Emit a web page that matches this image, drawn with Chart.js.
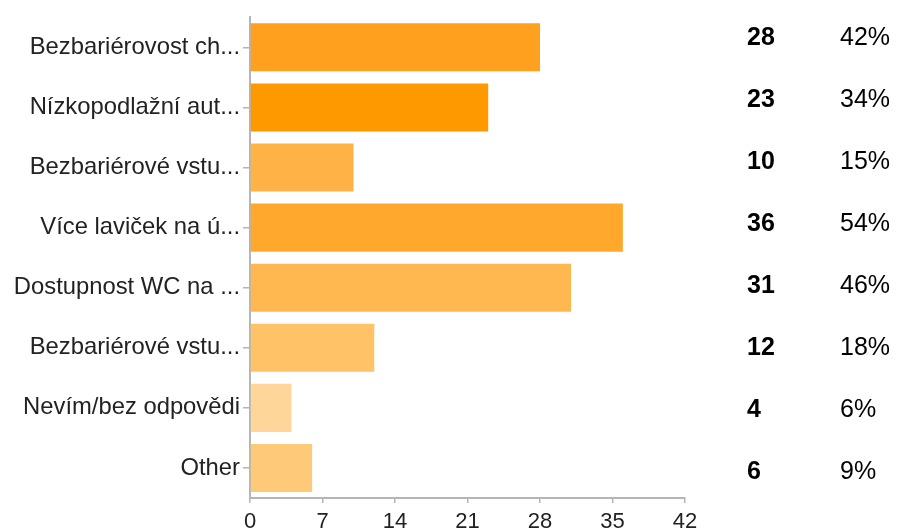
<!DOCTYPE html>
<html>
<head>
<meta charset="utf-8">
<script src="https://cdn.jsdelivr.net/npm/chart.js@4/dist/chart.umd.min.js"></script>
<style>
  html, body { margin: 0; padding: 0; background: #fff; }
  #wrap { width: 897px; height: 530px; }
</style>
</head>
<body>
<div id="wrap"><canvas id="c" width="897" height="530"></canvas></div>
<script>
// data
const categories = [
    'Bezbariérovost ch...',
    'Nízkopodlažní aut...',
    'Bezbariérové vstu...',
    'Více laviček na ú...',
    'Dostupnost WC na ...',
    'Bezbariérové vstu...',
    'Nevím/bez odpovědi',
    'Other'
];
const counts   = [28, 23, 10, 36, 31, 12, 4, 6];
const percents = [42, 34, 15, 54, 46, 18, 6, 9];
const barColors = ['#ffa11f', '#ff9900', '#ffb347', '#ffa82c', '#ffb74f', '#ffc266', '#ffd699', '#ffc97a'];
const xTicks = [0, 7, 14, 21, 28, 35, 42];

const FONT = "'Liberation Sans', Arial, sans-serif";

// count + percent columns on the right (own row pitch, a bit taller than the bars)
const sideColumns = {
    id: 'sideColumns',
    afterDraw(chart) {
        const ctx = chart.ctx;
        ctx.save();
        ctx.textBaseline = 'middle';
        ctx.textAlign = 'left';
        ctx.fillStyle = '#000';
        counts.forEach((v, i) => {
            const py = 38 + i * 62;
            ctx.font = 'bold 25px ' + FONT;
            ctx.fillText(String(v), 747, py);
            ctx.font = '25px ' + FONT;
            ctx.fillText(percents[i] + '%', 840, py);
        });
        ctx.restore();
    }
};

new Chart(document.getElementById('c'), {
    type: 'bar',
    data: {
        labels: categories,
        datasets: [{
            data: counts,
            backgroundColor: barColors,
            borderWidth: 0,
            categoryPercentage: 0.8,
            barPercentage: 1.0
        }]
    },
    options: {
        indexAxis: 'y',
        responsive: false,
        animation: false,
        layout: { padding: { top: 16, right: 212, bottom: 0, left: 0 } },
        plugins: { legend: { display: false }, tooltip: { enabled: false } },
        scales: {
            x: {
                min: 0,
                max: 42,
                afterBuildTicks: s => { s.ticks = xTicks.map(v => ({ value: v })); },
                afterFit: s => { s.height = 32; },
                grid: { drawOnChartArea: false, drawTicks: true, tickLength: 5, color: '#b5b5b5', lineWidth: 1.5 },
                border: { display: true, color: '#b5b5b5', width: 2 },
                ticks: { color: '#222', font: { family: FONT, size: 22 }, padding: 6, maxRotation: 0 }
            },
            y: {
                afterFit: s => { s.width = 250; },
                grid: { offset: false, drawOnChartArea: false, drawTicks: true, tickLength: 7, color: '#b5b5b5', lineWidth: 1.5 },
                border: { display: true, color: '#b5b5b5', width: 2 },
                ticks: { color: '#222', font: { family: FONT, size: 23.8 }, padding: 3, autoSkip: false }
            }
        }
    },
    plugins: [sideColumns]
});
</script>
</body>
</html>
